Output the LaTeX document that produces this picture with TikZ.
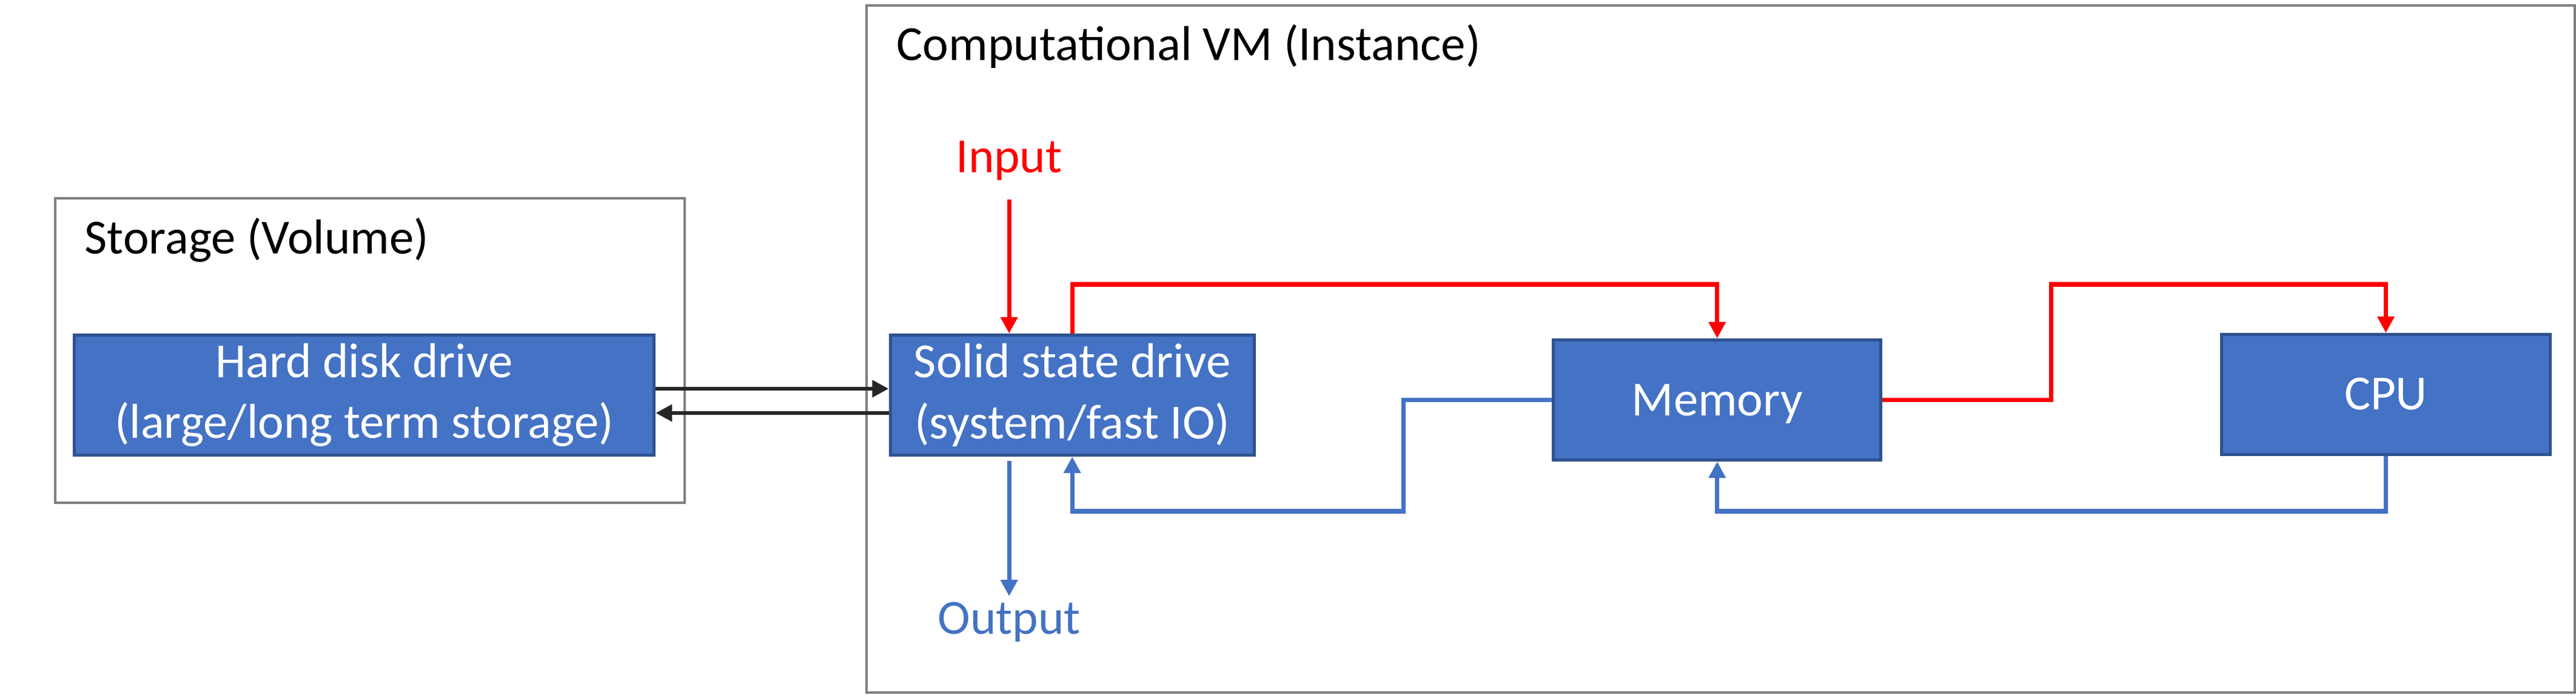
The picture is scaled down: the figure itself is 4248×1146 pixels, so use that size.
\documentclass[tikz,border=0pt]{standalone}
\usepackage{fontspec}
\setmainfont{Carlito}
\usetikzlibrary{positioning,arrows.meta}
\definecolor{boxblue}{HTML}{4472C4}
\definecolor{boxedge}{HTML}{2F528F}
\definecolor{groupgray}{HTML}{7F7F7F}
\definecolor{linkblack}{HTML}{262626}
\definecolor{flowred}{HTML}{FF0000}
\tikzset{
	groupbox/.style = {draw=groupgray, line width=1.14pt, inner sep=0pt},
	grouptitle/.style = {anchor=base west, inner sep=0pt},
	hwbox/.style = {draw=boxedge, fill=boxblue, line width=1.42pt, text=white,
	  align=center, inner sep=0pt, minimum height=1.98cm},
	oneline/.style = {text height=14.5pt, text depth=0pt},
	iolabel/.style = {inner sep=0pt, text height=14.5pt, text depth=0pt},
	tip/.style = {-{Triangle[length=0.27cm, width=0.27cm]}},
	linkarrow/.style = {tip, draw=linkblack, line width=1.9pt},
	redarrow/.style = {tip, draw=flowred, line width=2pt},
	bluearrow/.style = {tip, draw=boxblue, line width=2pt}
}
\begin{document}
\begin{tikzpicture}[x=0.01cm, y=-0.01cm, font=\fontsize{23pt}{28.5pt}\selectfont]
\useasboundingbox (0,0) rectangle (4248,1146);

% NODES
% storage side
\node (storage) [groupbox, minimum width=10.37cm, minimum height=5.01cm] at (610,578) {};
\node (storagelabel) [grouptitle] at (139,419) {Storage (Volume)};
\node (hdd) [hwbox, minimum width=9.56cm] at (600.5,651.5) {Hard disk drive\\(large/long term storage)};
% instance side
\node (vm) [groupbox, minimum width=28.16cm, minimum height=11.33cm] at (2837.5,575.5) {};
\node (vmlabel) [grouptitle] at (1478,100) {Computational VM (Instance)};
\node (ssd) [hwbox, minimum width=6.00cm, right=3.84cm of hdd] {Solid state drive\\(system/fast IO)};
\node (mem) [hwbox, oneline, minimum width=5.40cm, right=4.88cm of ssd, yshift=-0.08cm] {Memory};
\node (cpu) [hwbox, oneline, minimum width=5.42cm, right=5.56cm of mem, yshift=0.09cm] {CPU};
% input, output
\node (input) [iolabel, text=flowred, above=2.65cm of ssd.north, xshift=-1.04cm] {Input};
\node (output) [iolabel, text=boxblue, below=2.41cm of ssd.south, xshift=-1.04cm] {Output};
\coordinate (ridge) at (3382,469);
\coordinate (dip) at (2314,843);

%CONNECTIONS
\draw [linkarrow] ([yshift=0.105cm]hdd.east) -- ([yshift=0.105cm]ssd.west);
\draw [linkarrow] ([yshift=-0.295cm]ssd.west) -- ([yshift=-0.295cm]hdd.east);
\draw [redarrow, shorten <=0.44cm] (input) -- (input |- ssd.north);
\draw [bluearrow, shorten <=0.07cm, shorten >=0.11cm] (output |- ssd.south) -- (output);
\draw [redarrow] (ssd.north) |- (mem.north |- ridge) -- (mem.north);
\draw [redarrow] (mem.east) -| (ridge) -| (cpu.north);
\draw [bluearrow] (mem.west) -| (dip) -| (ssd.south);
\draw [bluearrow] (cpu.south) |- (mem.south |- dip) -- (mem.south);

\end{tikzpicture}
\end{document}
